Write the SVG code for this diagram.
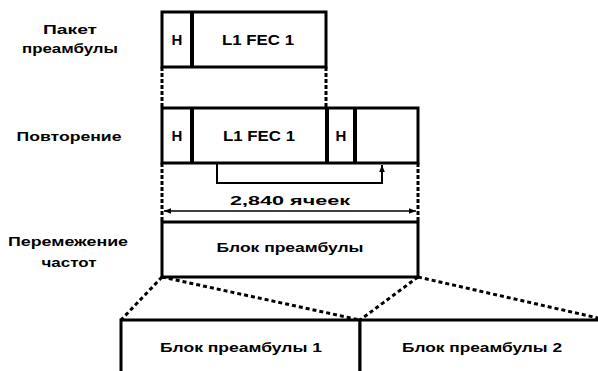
<svg xmlns="http://www.w3.org/2000/svg" width="598" height="371" viewBox="0 0 598 371">
<defs>
<style>
.box{fill:#fff;stroke:#000;stroke-width:3}
.div{stroke:#000;stroke-width:4}
.dash{stroke:#000;stroke-width:3;stroke-dasharray:4 2;fill:none}
.fan{stroke:#000;stroke-width:3;stroke-dasharray:4 3;fill:none}
.lbl{font-family:"Liberation Sans",Arial,sans-serif;font-weight:bold;font-size:13px;fill:#000;text-anchor:middle}
.in{font-family:"Liberation Sans",Arial,sans-serif;font-weight:bold;font-size:15px;fill:#000;text-anchor:middle}
.blk{font-family:"Liberation Sans",Arial,sans-serif;font-weight:bold;font-size:13px;fill:#000;text-anchor:middle}
</style>
<marker id="ah" viewBox="0 0 10 10" refX="10" refY="5" markerWidth="7" markerHeight="7" orient="auto-start-reverse" markerUnits="userSpaceOnUse">
<path d="M0,1 L10,5 L0,9 Z" fill="#000"/>
</marker>
</defs>
<rect width="598" height="371" fill="#fff"/>

<g id="labels">
<text class="lbl" x="70" y="34" textLength="54" lengthAdjust="spacingAndGlyphs">Пакет</text>
<text class="lbl" x="70" y="53" textLength="96" lengthAdjust="spacingAndGlyphs">преамбулы</text>
<text class="lbl" x="69" y="141" textLength="105" lengthAdjust="spacingAndGlyphs">Повторение</text>
<text class="lbl" x="68" y="246" textLength="120" lengthAdjust="spacingAndGlyphs">Перемежение</text>
<text class="lbl" x="69" y="267" textLength="55" lengthAdjust="spacingAndGlyphs">частот</text>
</g>

<g id="header-packet">
<rect class="box" x="162" y="12" width="164" height="55"/>
<line class="div" x1="192" y1="12" x2="192" y2="67"/>
<text class="in" x="177" y="45">H</text>
<text class="in" x="258" y="45" textLength="72" lengthAdjust="spacingAndGlyphs">L1 FEC 1</text>
</g>

<g id="repetition">
<rect class="box" x="162" y="108" width="256" height="55"/>
<line class="div" x1="192" y1="108" x2="192" y2="163"/>
<line class="div" x1="327" y1="108" x2="327" y2="163"/>
<line class="div" x1="355" y1="108" x2="355" y2="163"/>
<text class="in" x="177" y="141">H</text>
<text class="in" x="259" y="141" textLength="72" lengthAdjust="spacingAndGlyphs">L1 FEC 1</text>
<text class="in" x="341" y="141">H</text>
</g>

<g id="interleaved">
<rect class="box" x="162" y="222" width="256" height="55"/>
<text class="blk" x="290" y="252" textLength="147" lengthAdjust="spacingAndGlyphs">Блок преамбулы</text>
</g>

<g id="block1">
<rect class="box" x="121" y="320" width="239" height="60"/>
<text class="blk" x="241" y="352" textLength="162" lengthAdjust="spacingAndGlyphs">Блок преамбулы 1</text>
</g>

<g id="block2">
<rect class="box" x="360" y="320" width="250" height="60"/>
<text class="blk" x="482" y="352" textLength="160" lengthAdjust="spacingAndGlyphs">Блок преамбулы 2</text>
</g>

<g id="connectors">
<line class="dash" x1="162" y1="67" x2="162" y2="108"/>
<line class="dash" x1="326" y1="67" x2="326" y2="108"/>
<line class="dash" x1="162" y1="163" x2="162" y2="222"/>
<line class="dash" x1="418" y1="163" x2="418" y2="222"/>
<polyline points="217,163 217,183 382,183 382,165" fill="none" stroke="#000" stroke-width="2" marker-end="url(#ah)"/>
<line x1="164" y1="211" x2="416" y2="211" stroke="#000" stroke-width="1.5" marker-start="url(#ah)" marker-end="url(#ah)"/>
<text class="blk" x="290" y="205" textLength="120" lengthAdjust="spacingAndGlyphs">2,840 ячеек</text>
<line class="fan" x1="162" y1="277" x2="121" y2="320"/>
<line class="fan" x1="162" y1="277" x2="360" y2="320"/>
<line class="fan" x1="418" y1="277" x2="360" y2="320"/>
<line class="fan" x1="418" y1="277" x2="598" y2="318"/>
</g>
</svg>
